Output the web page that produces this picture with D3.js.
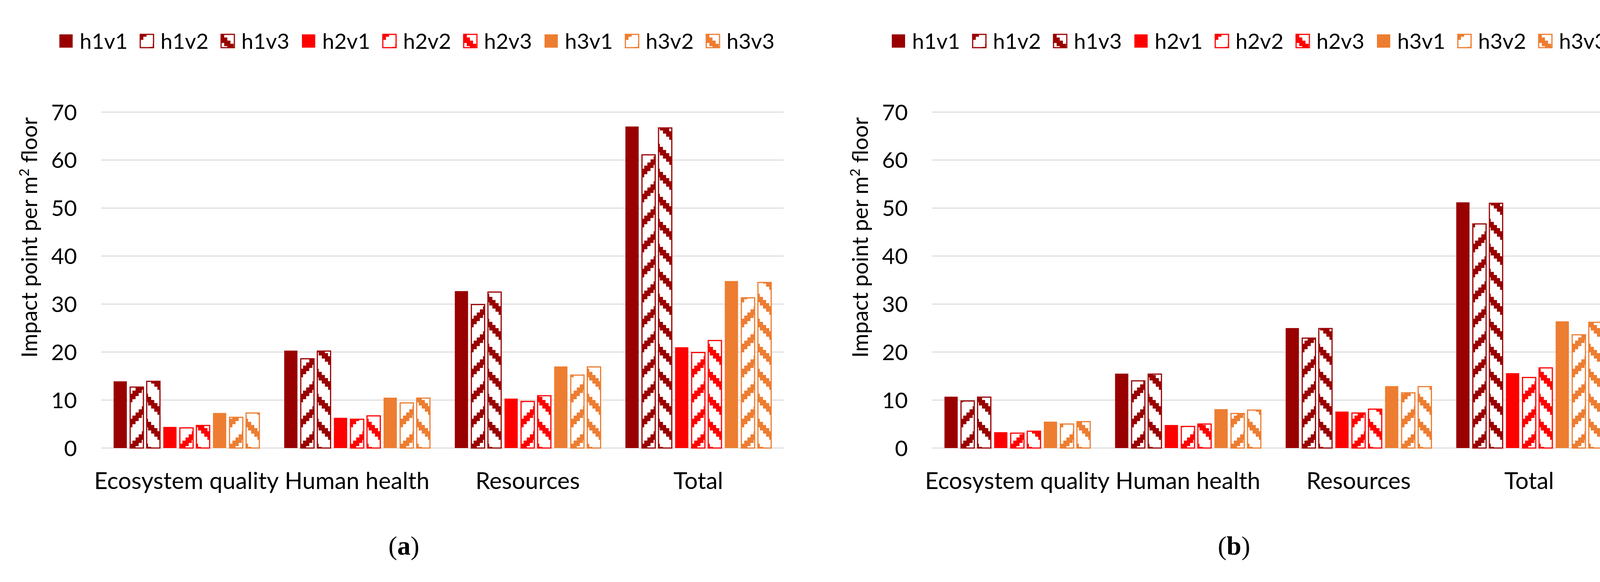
<!DOCTYPE html>
<html>
<head>
<meta charset="utf-8">
<script src="https://cdn.jsdelivr.net/npm/d3@7"></script>
<style>
  body { margin: 0; background: #fff; overflow: hidden; }
  text { font-family: Lato, "Open Sans", sans-serif; fill: #000; }
</style>
</head>
<body>
<svg id="chart" width="4184" height="1490"></svg>
<script>
let categories = ["Ecosystem quality", "Human health", "Resources", "Total"];
let series = ["h1v1", "h1v2", "h1v3", "h2v1", "h2v2", "h2v3", "h3v1", "h3v2", "h3v3"];
let yTicks = [0, 10, 20, 30, 40, 50, 60, 70];

// values per category, in series order
let valuesA = [
  [13.9, 12.7, 13.9, 4.4, 4.2, 4.7, 7.3, 6.4, 7.3],
  [20.3, 18.6, 20.2, 6.3, 6.0, 6.7, 10.5, 9.4, 10.4],
  [32.7, 29.9, 32.5, 10.3, 9.7, 10.9, 17.0, 15.2, 16.9],
  [67.0, 61.1, 66.7, 21.0, 19.9, 22.4, 34.8, 31.3, 34.5]
];
let valuesB = [
  [10.7, 9.8, 10.6, 3.3, 3.1, 3.5, 5.5, 5.0, 5.5],
  [15.5, 14.0, 15.4, 4.8, 4.5, 5.0, 8.1, 7.2, 7.9],
  [25.0, 22.9, 24.9, 7.6, 7.3, 8.1, 12.9, 11.5, 12.8],
  [51.2, 46.7, 51.0, 15.6, 14.7, 16.7, 26.4, 23.6, 26.2]
];

let colors = ["#990000", "#ff0000", "#ed7d31"];

let svg = d3.select("#chart");
let defs = svg.append("defs");

// stepped diagonal stripes: "up" for v2, "down" for v3
colors.forEach(function(c, i) {
  ["up", "down"].forEach(function(dir) {
    let p = defs.append("pattern")
      .attr("id", "pat" + i + dir)
      .attr("patternUnits", "userSpaceOnUse")
      .attr("width", 64).attr("height", 64);
    p.append("rect").attr("width", 64).attr("height", 64).attr("fill", "#fff");
    for (let k = 0; k < 8; k++) {
      let x = k * 8;
      let y = dir == "up" ? 64 - (k + 1) * 8 : k * 8;
      [-64, 0, 64].forEach(function(off) {
        p.append("rect")
          .attr("x", x).attr("y", y + off)
          .attr("width", 8).attr("height", 22)
          .attr("fill", c);
      });
    }
  });
});

function fillFor(j) {
  let h = Math.floor(j / 3), v = j % 3;
  if (v == 0) return colors[h];
  return "url(#pat" + h + (v == 1 ? "up" : "down") + ")";
}

function drawChart(opt) {
  let g = svg.append("g");
  let y = d3.scaleLinear().domain([0, 70]).range([1147, 287]);
  let x0 = d3.scaleBand().domain(categories).range([opt.left, opt.right]).paddingInner(0).paddingOuter(0);
  let x1 = d3.scaleBand().domain(series).range([0, x0.bandwidth()]).paddingInner(0.2).paddingOuter(0.75);

  // gridlines
  g.selectAll(".grid").data(yTicks).enter().append("line")
    .attr("x1", opt.left).attr("x2", opt.right)
    .attr("y1", function(d) { return y(d); })
    .attr("y2", function(d) { return y(d); })
    .attr("stroke", "#d9d9d9").attr("stroke-width", 2.5);

  // y tick labels
  g.selectAll(".tick").data(yTicks).enter().append("text")
    .attr("x", opt.left - 62).attr("y", function(d) { return y(d); })
    .attr("dy", "0.36em").attr("text-anchor", "end")
    .attr("font-size", 57)
    .text(function(d) { return d; });

  // bars
  categories.forEach(function(cat, ci) {
    let bars = g.append("g").attr("transform", "translate(" + x0(cat) + ",0)");
    bars.selectAll("rect").data(opt.values[ci]).enter().append("rect")
      .attr("x", function(d, j) { return x1(series[j]); })
      .attr("y", function(d) { return y(d); })
      .attr("width", x1.bandwidth())
      .attr("height", function(d) { return y(0) - y(d); })
      .attr("fill", function(d, j) { return fillFor(j); })
      .attr("stroke", function(d, j) { return j % 3 == 0 ? "none" : colors[Math.floor(j / 3)]; })
      .attr("stroke-width", 3);
  });

  // category labels
  g.selectAll(".cat").data(categories).enter().append("text")
    .attr("x", function(d) { return x0(d) + x0.bandwidth() / 2; })
    .attr("y", 1252).attr("text-anchor", "middle")
    .attr("font-size", 60)
    .text(function(d) { return d; });

  // y axis title
  let t = g.append("text")
    .attr("transform", "translate(" + opt.titleX + ",608) rotate(-90)")
    .attr("text-anchor", "middle").attr("font-size", 56);
  t.append("tspan").text("Impact point per m");
  t.append("tspan").attr("font-size", 35).attr("dy", -21).text("2");
  t.append("tspan").attr("dy", 21).text(" floor");

  // legend
  let leg = g.selectAll(".leg").data(series).enter().append("g")
    .attr("transform", function(d, j) { return "translate(" + (opt.legendX + j * opt.legendStep) + ",88)"; });
  leg.append("rect")
    .attr("width", 34).attr("height", 34)
    .attr("fill", function(d, j) { return fillFor(j); })
    .attr("stroke", function(d, j) { return j % 3 == 0 ? "none" : colors[Math.floor(j / 3)]; })
    .attr("stroke-width", 3);
  leg.append("text")
    .attr("x", 52).attr("y", 17).attr("dy", "0.36em")
    .attr("font-size", 55)
    .text(function(d) { return d; });

  // caption
  let cap = g.append("text")
    .attr("x", opt.capX).attr("y", 1420).attr("text-anchor", "middle")
    .attr("font-size", 68)
    .style("font-family", "'Liberation Serif', serif");
  cap.append("tspan").text("(");
  cap.append("tspan").attr("font-weight", "bold").text(opt.letter);
  cap.append("tspan").text(")");
}

drawChart({ values: valuesA, left: 259, right: 2006, titleX: 95, legendX: 152, legendStep: 207, capX: 1034, letter: "a" });
drawChart({ values: valuesB, left: 2386, right: 4133, titleX: 2222, legendX: 2283, legendStep: 207, capX: 3159, letter: "b" });
</script>
</body>
</html>
